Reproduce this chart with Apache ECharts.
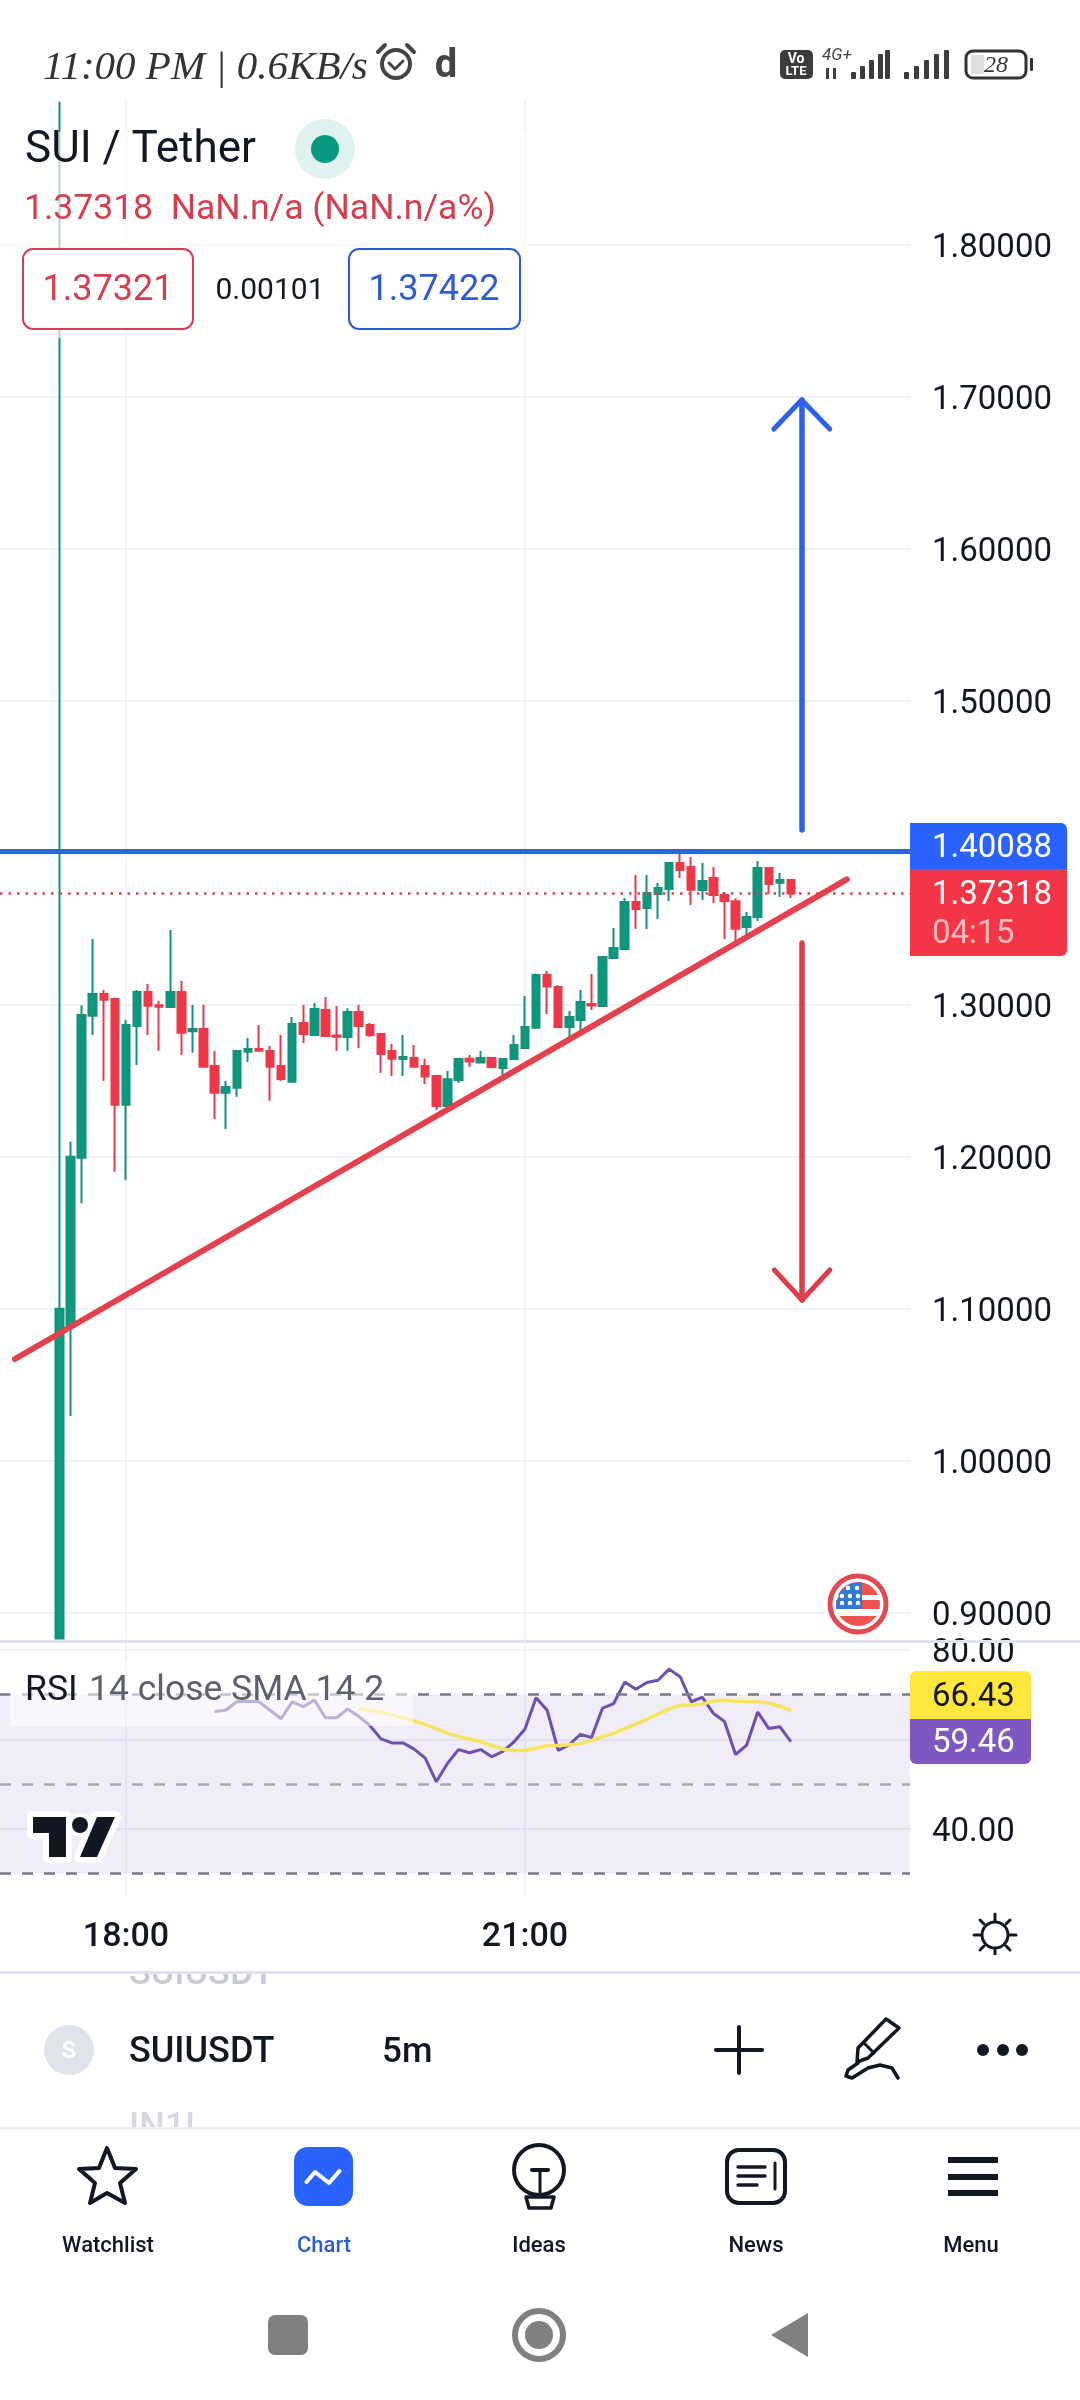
<!DOCTYPE html>
<html>
<head>
<meta charset="utf-8">
<title>SUI / Tether</title>
<script src="https://cdn.jsdelivr.net/npm/echarts@6/dist/echarts.min.js"></script>
<style>
html,body{margin:0;padding:0;background:#fff}
#chart{width:1080px;height:2400px}
</style>
</head>
<body>
<div id="chart"></div>
<script>
// candles: open, close, low, high, one row per 5m bar starting 17:30
var candles = [
[0.883,1.1,0.883,1.894],[1.088,1.2,1.0294,1.2099],[1.1993,1.2932,1.1693,1.2996],[1.2928,1.307,1.28,1.3432],
[1.307,1.3033,1.25,1.3096],[1.3037,1.2342,1.1901,1.3048],[1.2342,1.2866,1.1847,1.2899],[1.286,1.3083,1.2603,1.3096],
[1.3083,1.2993,1.28,1.3136],[1.2996,1.2987,1.2697,1.3024],[1.2985,1.3083,1.2985,1.3491],[1.3083,1.2816,1.2669,1.3156],
[1.2825,1.284,1.2684,1.2998],[1.284,1.2592,1.2592,1.2998],[1.2596,1.2421,1.2248,1.2695],[1.2421,1.2458,1.2182,1.2498],
[1.2454,1.2695,1.2395,1.2695],[1.2691,1.2708,1.2623,1.2781],[1.2708,1.2697,1.2697,1.2866],[1.2695,1.2592,1.2368,1.2728],
[1.2596,1.2511,1.2498,1.28],[1.2493,1.2873,1.2493,1.2919],[1.2879,1.2807,1.2748,1.2998],[1.28,1.2971,1.28,1.3011],
[1.2965,1.2794,1.2789,1.305],[1.2798,1.2789,1.2697,1.2991],[1.2787,1.2952,1.2697,1.2976],[1.2952,1.286,1.2715,1.2998],
[1.2866,1.28,1.2787,1.2879],[1.2807,1.2675,1.255,1.2807],[1.2695,1.2645,1.2531,1.2741],[1.2643,1.2656,1.2531,1.28],
[1.2649,1.2592,1.2592,1.2735],[1.2597,1.2527,1.2478,1.2645],[1.2531,1.2334,1.2307,1.2531],[1.2334,1.2509,1.2334,1.2564],
[1.2505,1.2643,1.2485,1.265],[1.2645,1.2627,1.2592,1.2669],[1.2619,1.2649,1.2619,1.2695],[1.2649,1.259,1.259,1.2656],
[1.2584,1.2643,1.2524,1.265],[1.2643,1.2735,1.2636,1.2801],[1.2715,1.2853,1.2715,1.3057],[1.2849,1.3195,1.2849,1.3206],
[1.3195,1.3119,1.2939,1.3222],[1.3116,1.2853,1.2847,1.313],[1.2853,1.2919,1.2781,1.2959],[1.2899,1.3018,1.2834,1.3097],
[1.3005,1.2994,1.2965,1.3202],[1.2991,1.3314,1.2991,1.3314],[1.3307,1.3373,1.3301,1.3504],[1.3366,1.3676,1.3366,1.3702],
[1.3676,1.363,1.3498,1.3853],[1.3636,1.3735,1.3498,1.3853],[1.3728,1.3768,1.3564,1.3801],[1.3761,1.3932,1.3682,1.3939],
[1.3932,1.3886,1.3834,1.3996],[1.3906,1.3757,1.3656,1.3972],[1.3755,1.3814,1.3689,1.3932],[1.3834,1.3722,1.3669,1.3906],
[1.3722,1.3682,1.3432,1.3742],[1.368,1.35,1.3413,1.37],[1.3511,1.3577,1.3452,1.361],[1.3577,1.3899,1.3551,1.3945],
[1.3899,1.3794,1.3728,1.3899],[1.3803,1.382,1.3709,1.3866],[1.382,1.37318,1.3702,1.382]
];
// rsi starts on bar 14, its sma on bar 27
var rsiValues = [66.2,66.5,68.4,68.5,68.4,66.5,64.6,68.4,67.3,68.8,64.8,64.8,66.8,65.1,63.1,60.1,59.2,59.2,57.8,55.8,50.5,54.6,57.7,57.0,57.7,56.1,
57.3,59.4,62.3,69.3,66.5,57.5,58.8,61.1,60.4,67.0,68.0,72.8,71.2,72.7,73.2,75.7,74.0,68.4,69.4,65.8,64.0,56.6,58.7,66.1,62.4,62.8,59.46];
var smaValues = [66.8,66.5,66.0,65.4,64.8,64.1,63.3,62.4,61.4,60.6,60.0,59.5,58.6,57.8,57.5,57.5,58.0,58.6,58.6,58.8,59.0,59.7,60.6,61.3,62.4,63.4,64.5,65.6,66.8,67.6,67.7,67.9,68.5,68.8,68.5,68.4,68.4,68.1,67.4,66.43];
var priceTicks = [0.9,1.0,1.1,1.2,1.3,1.4,1.5,1.6,1.7,1.8];
var rsiTicks = [40,60,80];
var timeTicks = [1080,1260]; // minutes of day, 18:00 and 21:00
var barStart = 1050;
var barStep = 5;
var resistance = 1.40088;
var lastPrice = 1.37318;
// drawings, [minute, price]
var trendLine = [[1029.9,1.0669],[1405.2,1.3825]];
var upShaft = [[1384.8,1.4149],[1384.8,1.6978]];
var upHeadL = [[1372.3,1.6787],[1384.8,1.6978]];
var upHeadR = [[1397.5,1.6787],[1384.8,1.6978]];
var downShaft = [[1385,1.3406],[1385,1.1057]];
var downHeadL = [[1372.5,1.1255],[1385,1.1057]];
var downHeadR = [[1397.5,1.1255],[1385,1.1057]];

var FONT = 'Roboto, sans-serif';
var GREEN = '#089981', RED = '#F23645', BLUE = '#2962FF', DARK = '#131722', GRIDC = '#F2F3F6';

var candleData = candles.map(function (c, i) {
    return [barStart + i * barStep, c[0], c[1], c[2], c[3]];
});
var rsiData = rsiValues.map(function (v, i) {
    return [barStart + (14 + i) * barStep, v];
});
var smaData = smaValues.map(function (v, i) {
    return [barStart + (27 + i) * barStep, v];
});

function seg(points, color, width) {
    return [
        {coord: points[0], lineStyle: {color: color, width: width, type: 'solid', cap: 'round'}},
        {coord: points[1]}
    ];
}

// page furniture around the chart
var g = [];
function text(x, y, str, size, color, opt) {
    opt = opt || {};
    g.push({type: 'text', z: 50, style: {
        x: x, y: y + 3, text: str, fill: color,
        font: (opt.style || '') + ' ' + (opt.weight || 400) + ' ' + size + 'px ' + (opt.family || FONT),
        textAlign: opt.align || 'left', textVerticalAlign: 'middle', opacity: opt.opacity == null ? 1 : opt.opacity
    }});
}
function box(x, y, w, h, fill, r, stroke, lw) {
    g.push({type: 'rect', z: 50, shape: {x: x, y: y, width: w, height: h, r: r || 0},
        style: {fill: fill || 'transparent', stroke: stroke || null, lineWidth: lw || 0}});
}
function circle(x, y, r, fill, stroke, lw) {
    g.push({type: 'circle', z: 50, shape: {cx: x, cy: y, r: r},
        style: {fill: fill || 'transparent', stroke: stroke || null, lineWidth: lw || 0}});
}
function stroke(points, color, lw) {
    g.push({type: 'polyline', z: 50, shape: {points: points},
        style: {fill: null, stroke: color, lineWidth: lw, lineCap: 'round', lineJoin: 'round'}});
}
function poly(points, fill, strokeC, lw) {
    g.push({type: 'polygon', z: 50, shape: {points: points},
        style: {fill: fill || 'transparent', stroke: strokeC || null, lineWidth: lw || 0, lineJoin: 'round'}});
}

// legend fade over the chart
box(0, 132, 530, 206, 'rgba(255,255,255,0.65)');
box(10, 1660, 403, 66, 'rgba(255,255,255,0.55)');

// status bar
text(43, 65, '11:00 PM | 0.6KB/s', 41, '#333', {style: 'italic', family: '"Liberation Serif", serif'});
circle(396, 64, 14, null, '#444', 4);
stroke([[389,63],[395,69],[403,61]], '#444', 3);
stroke([[378,52],[385,45]], '#444', 4);
stroke([[407,45],[414,52]], '#444', 4);
text(446, 64, 'd', 40, '#444', {weight: 700, align: 'center'});
box(780, 50, 33, 29, '#3c3c3c', 5);
text(796, 56, 'Vo', 14, '#fff', {weight: 700, align: 'center'});
text(796, 69, 'LTE', 13, '#fff', {weight: 700, align: 'center'});
text(822, 53, '4G+', 17, '#444', {style: 'italic'});
[[851,72],[860,66],[869,60],[878,54],[885,50]].forEach(function (b) { box(b[0], b[1], 5, 79 - b[1], '#3c3c3c', 1); });
box(826, 68, 3, 11, '#3c3c3c');
box(833, 68, 3, 11, '#3c3c3c');
[[904,72],[914,66],[924,60],[934,54],[944,50]].forEach(function (b) { box(b[0], b[1], 5, 79 - b[1], '#3c3c3c', 1); });
box(966, 51, 60, 27, '#fff', 7, '#333', 3);
box(971, 55, 13, 19, '#ddd', 2);
box(1030, 58, 3, 13, '#333', 1);
text(996, 63, '28', 24, '#333', {style: 'italic', align: 'center', family: '"Liberation Serif", serif'});

// symbol legend
text(25, 148, 'SUI / Tether', 44, DARK);
circle(325, 149, 30, '#E0F2EF');
circle(325, 149, 14, GREEN);
text(24, 207, lastPrice.toFixed(5) + '  NaN.n/a (NaN.n/a%)', 35.5, '#D2404F');
box(23, 249, 170, 80, '#fff', 10, '#D2404F', 2);
text(108, 288, '1.37321', 36, '#D2404F', {align: 'center'});
text(270, 288, '0.00101', 30, DARK, {align: 'center'});
box(349, 249, 171, 80, '#fff', 10, '#2F5BD0', 2);
text(434, 288, '1.37422', 36, '#2F5BD0', {align: 'center'});

// price tags
box(910, 823, 157, 47, BLUE, [0,6,0,0]);
text(932, 846, resistance.toFixed(5), 33, '#fff');
box(910, 869, 157, 87, RED, [0,0,6,0]);
text(932, 893, lastPrice.toFixed(5), 33, '#fff');
text(932, 932, '04:15', 33, '#FFB9BF');
box(910, 1671, 121, 48, '#FFE83B', [6,6,0,0]);
text(932, 1695, smaValues[smaValues.length - 1].toFixed(2), 33, DARK);
box(910, 1719, 121, 45, '#7E57C2', [0,0,6,6]);
text(932, 1741, rsiValues[rsiValues.length - 1].toFixed(2), 33, '#fff');

// event flag
circle(858, 1604, 28, '#fff', '#E04A55', 5);
g.push({type: 'circle', z: 50, shape: {cx: 858, cy: 1604, r: 22}, style: {fill: {
    type: 'linear', x: 0, y: 0, x2: 0, y2: 1, colorStops: [
        {offset: 0, color: '#EF5350'},{offset: 0.3, color: '#EF5350'},{offset: 0.3, color: '#fff'},
        {offset: 0.42, color: '#fff'},{offset: 0.42, color: '#EF5350'},{offset: 0.62, color: '#EF5350'},
        {offset: 0.62, color: '#fff'},{offset: 0.78, color: '#fff'},{offset: 0.78, color: '#EF5350'},{offset: 1, color: '#EF5350'}
    ]}}});
poly([[862,1582],[850,1584],[841,1591],[836.5,1601],[836,1609],[862,1609]], '#3179D8');
[[848,1588],[857,1588],[842,1596],[850,1596],[858,1596],[842,1603],[850,1603],[858,1603]].forEach(function (p) {
    circle(p[0], p[1], 2.2, '#fff');
});

// rsi legend + logo
text(25, 1688, 'RSI', 35.5, DARK);
text(89, 1688, '14 close SMA 14 2', 35.5, '#5D606B');
poly([[33,1817],[66,1817],[66,1857],[49,1857],[49,1833],[33,1833]], '#fff', '#fff', 12);
poly([[97,1817],[115,1817],[97,1857],[80,1857]], '#fff', '#fff', 12);
circle(80, 1825, 12, '#fff');
poly([[33,1817],[66,1817],[66,1857],[49,1857],[49,1833],[33,1833]], DARK);
poly([[97,1817],[115,1817],[97,1857],[80,1857]], DARK);
circle(80, 1825, 8, DARK);

// pane separators
box(0, 1640, 1080, 3, '#E0E3EB');

// settings icon
circle(995, 1935, 13, null, DARK, 3);
[[995,1914,995,1920],[995,1950,995,1956],[974,1935,980,1935],[1010,1935,1016,1935],[980,1920,984,1924],[1006,1924,1010,1920],[980,1950,984,1946],[1006,1946,1010,1950]].forEach(function (l) {
    stroke([[l[0],l[1]],[l[2],l[3]]], DARK, 3);
});

// symbol bar
text(129, 1972, 'SUIUSDT', 36, '#C8CBD3', {weight: 500});
text(129, 2126, 'IN1!', 36, '#D6D8DE', {weight: 500});
box(0, 1955, 1080, 16, '#fff');
box(0, 2128, 1080, 22, '#fff');
box(0, 1971, 1080, 3, '#E0E3EB');
box(0, 2127, 1080, 3, '#EEF0F3');
circle(69, 2050, 25, '#E0E3EB');
text(69, 2049, 'S', 24, '#fff', {weight: 700, align: 'center'});
text(129, 2050, 'SUIUSDT', 36, DARK, {weight: 500});
text(382, 2050, '5m', 35, DARK, {weight: 500});
stroke([[716,2050],[762,2050]], DARK, 4);
stroke([[739,2027],[739,2073]], DARK, 4);
stroke([[886,2019],[899,2028],[868,2058],[857,2062],[858,2048],[886,2019]], DARK, 3.5);
stroke([[864,2043],[874,2053]], DARK, 3);
stroke([[858,2063],[848,2070],[846,2076],[852,2078],[868,2068],[880,2065],[892,2068],[898,2078]], DARK, 3.5);
circle(983, 2050, 6, DARK);
circle(1003, 2050, 6, DARK);
circle(1022, 2050, 6, DARK);

// nav bar
poly([[107,2148],[115,2168],[136,2169],[120,2183],[125,2203],[107,2193],[90,2203],[95,2183],[79,2169],[99,2168]], null, DARK, 4);
box(294, 2147, 59, 59, BLUE, 14);
stroke([[306.5,2182],[315,2172],[329,2183],[339.5,2171]], '#fff', 4);
circle(539, 2170, 25, null, DARK, 4);
stroke([[532,2170],[548,2170]], DARK, 4);
stroke([[540,2170],[540,2192]], DARK, 3);
poly([[526,2197],[554,2197],[551,2208],[529,2208]], null, DARK, 3.5);
box(727, 2150, 58, 53, null, 12, DARK, 4);
stroke([[775,2163],[775,2189]], DARK, 3);
stroke([[738,2167],[765,2167]], DARK, 3.5);
stroke([[738,2176],[765,2176]], DARK, 3.5);
stroke([[738,2185],[757,2185]], DARK, 3.5);
box(948, 2157, 50, 6, DARK);
box(948, 2174, 50, 6, DARK);
box(948, 2190, 50, 6, DARK);
text(108, 2243, 'Watchlist', 22, DARK, {weight: 500, align: 'center'});
text(324, 2243, 'Chart', 22, '#2F5BD0', {weight: 500, align: 'center'});
text(539, 2243, 'Ideas', 22, DARK, {weight: 500, align: 'center'});
text(756, 2243, 'News', 22, DARK, {weight: 500, align: 'center'});
text(971, 2243, 'Menu', 22, DARK, {weight: 500, align: 'center'});
box(268, 2315, 40, 40, '#808080', 7);
circle(539, 2335, 24, null, '#808080', 6);
circle(539, 2335, 14, '#808080');
poly([[808,2313],[808,2357],[771,2335]], '#808080');

var chart = echarts.init(document.getElementById('chart'));
var xRange = {min: 1023.16, max: 1433.69};
function xAxisFor(index, showLabel) {
    return {
        type: 'value', gridIndex: index, min: xRange.min, max: xRange.max,
        axisLine: {show: false},
        axisTick: {show: false, customValues: timeTicks},
        axisLabel: {
            show: showLabel, customValues: timeTicks, margin: 25,
            fontFamily: FONT, fontSize: 34, fontWeight: 500, color: DARK,
            formatter: function (v) {
                return Math.floor(v / 60) + ':' + ('0' + (v % 60)).slice(-2);
            }
        },
        splitLine: {show: true, lineStyle: {color: GRIDC, width: 2}}
    };
}
function yAxisFor(index, min, max, ticks, digits) {
    return {
        type: 'value', gridIndex: index, position: 'right', min: min, max: max,
        axisLine: {show: false},
        axisTick: {show: false, customValues: ticks},
        axisLabel: {
            customValues: ticks, margin: 22, inside: false, align: 'left',
            verticalAlign: 'top', lineHeight: 8,
            fontFamily: FONT, fontSize: 33, color: DARK,
            formatter: function (v) { return v.toFixed(digits); }
        },
        splitLine: {show: true, lineStyle: {color: GRIDC, width: 2}}
    };
}

var option = {
    animation: false,
    backgroundColor: '#fff',
    grid: [
        {left: 0, top: 100, width: 910, height: 1540},
        {left: 0, top: 1642, width: 910, height: 253}
    ],
    xAxis: [xAxisFor(0, false), xAxisFor(1, true)],
    yAxis: [
        yAxisFor(0, 0.88204, 1.8952, priceTicks, 5),
        yAxisFor(1, 25.17, 81.77, rsiTicks, 2)
    ],
    graphic: {elements: g},
    series: [
        {
            name: 'SUIUSDT', type: 'candlestick', xAxisIndex: 0, yAxisIndex: 0,
            barWidth: 8, data: candleData, silent: true,
            itemStyle: {color: '#0C9A7E', color0: RED, borderColor: '#14907C', borderColor0: '#E53B4C', borderWidth: 2},
            markLine: {
                silent: true, symbol: ['none', 'none'], label: {show: false}, z: 6, animation: false, precision: 5,
                data: [
                    {yAxis: lastPrice, lineStyle: {color: '#D9434F', width: 2.5, type: [2.5, 6]}},
                    {yAxis: resistance, lineStyle: {color: '#2F62E6', width: 5, type: 'solid'}},
                    seg(trendLine, '#E5404E', 6),
                    seg(upShaft, '#2F62E6', 5.5),
                    seg(upHeadL, '#2F62E6', 5),
                    seg(upHeadR, '#2F62E6', 5),
                    seg(downShaft, '#DB3F4C', 5.5),
                    seg(downHeadL, '#DB3F4C', 5),
                    seg(downHeadR, '#DB3F4C', 5)
                ]
            }
        },
        {
            name: 'RSI', type: 'line', xAxisIndex: 1, yAxisIndex: 1, data: rsiData,
            symbol: 'none', silent: true, z: 4,
            lineStyle: {color: '#6C4FAE', width: 3},
            markArea: {
                silent: true, itemStyle: {color: 'rgba(126,87,194,0.11)'},
                data: [[{yAxis: 70}, {yAxis: 30}]]
            },
            markLine: {
                silent: true, symbol: ['none', 'none'], label: {show: false}, animation: false,
                data: [
                    {yAxis: 70, lineStyle: {color: '#787B86', width: 2.5, type: [11, 11]}},
                    {yAxis: 50, lineStyle: {color: '#A9A7B6', width: 2.5, type: [11, 11]}},
                    {yAxis: 30, lineStyle: {color: '#787B86', width: 2.5, type: [11, 11]}}
                ]
            }
        },
        {
            name: 'SMA', type: 'line', xAxisIndex: 1, yAxisIndex: 1, data: smaData,
            symbol: 'none', silent: true, z: 5,
            lineStyle: {color: '#F7E35C', width: 3.5}
        }
    ]
};
chart.setOption(option);
</script>
</body>
</html>
